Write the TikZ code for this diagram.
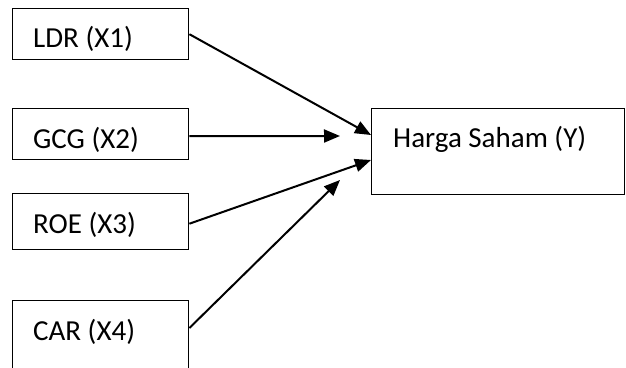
\documentclass[tikz,border=0pt]{standalone}
\usepackage{fontspec}
\setmainfont{Carlito}
\usetikzlibrary{arrows.meta}
\begin{document}
\begin{tikzpicture}[x=1pt,y=-1pt,
  box/.style={draw=black,line width=1.4pt,anchor=north west,inner sep=0pt,minimum width=176pt},
  lbl/.style={anchor=base west,inner sep=0pt,font=\fontsize{29}{31}\selectfont},
  arr/.style={line width=2pt,-{Triangle[length=16pt,width=13pt]}}]
\useasboundingbox (0,0) rectangle (626,367);
\begin{scope}
\clip (0,0) rectangle (626,367);
\node[box,minimum height=51pt] (ldr) at (12,8) {};
\node[box,minimum height=51pt] (gcg) at (12,108) {};
\node[box,minimum height=56pt] (roe) at (12,193) {};
\node[box,minimum height=70pt] (car) at (12,300) {};
\node[box,minimum width=253pt,minimum height=86pt] (y) at (371,108) {};
\end{scope}
\node[lbl] (ldrt) at ([xshift=21pt,yshift=-39pt]ldr.north west) {LDR (X1)};
\node[lbl] (gcgt) at ([xshift=21pt,yshift=-40pt]gcg.north west) {GCG (X2)};
\node[lbl] (roet) at ([xshift=21pt,yshift=-40pt]roe.north west) {ROE (X3)};
\node[lbl] (cart) at ([xshift=21pt,yshift=-40pt]car.north west) {CAR (X4)};
\node[lbl] (yt) at ([xshift=22pt,yshift=-39pt]y.north west) {Harga Saham (Y)};
\coordinate (gcgend) at (340,136);
\coordinate (carend) at (340,180);
\coordinate (ldrend) at ([yshift=-27pt]y.north west);
\coordinate (roeend) at ([yshift=-52pt]y.north west);
\coordinate (carstart) at ([yshift=-28pt]car.north east);
\draw[arr] (ldr.east) -- (ldrend);
\draw[arr] ([yshift=-2pt]gcg.east) -- (gcgend);
\draw[arr] ([yshift=-2pt]roe.east) -- (roeend);
\draw[arr] (carstart) -- (carend);
\end{tikzpicture}
\end{document}
